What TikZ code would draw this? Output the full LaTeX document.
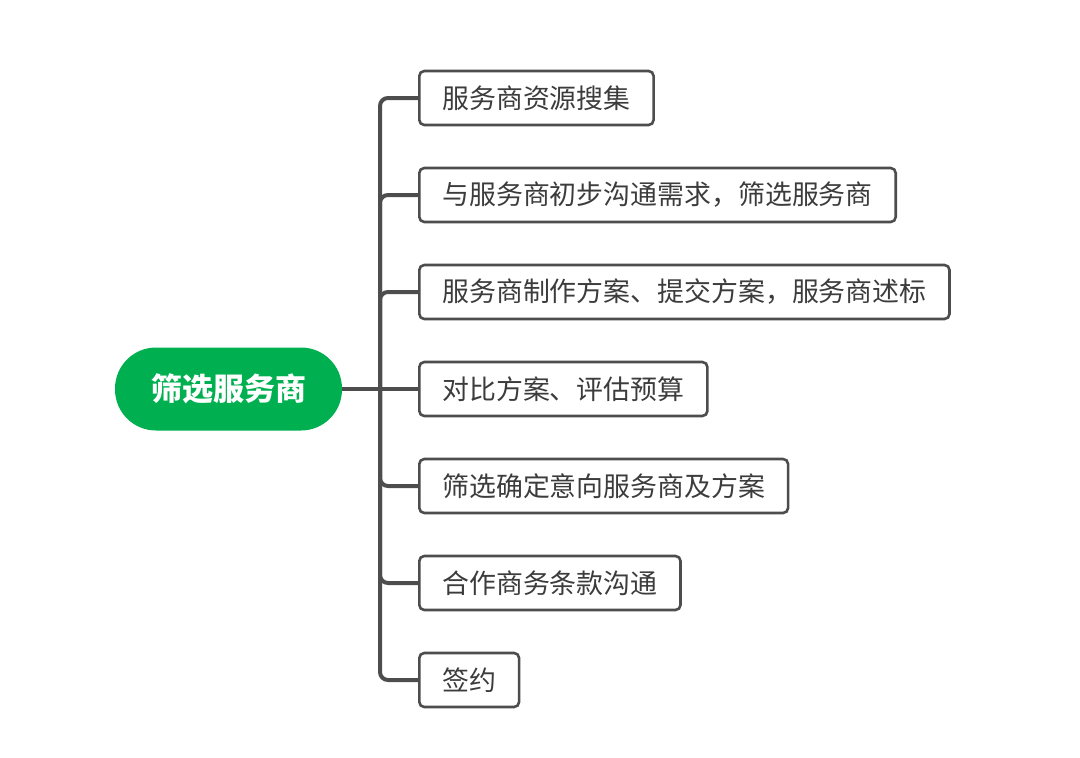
\documentclass[tikz,border=0pt]{standalone}
\usepackage{fontspec}
\newfontfamily\cjk{Noto Sans CJK SC}
\usetikzlibrary{positioning}
\definecolor{rootgreen}{RGB}{0,176,80}
\definecolor{linegray}{RGB}{77,77,77}
\definecolor{textgray}{RGB}{60,60,60}

\begin{document}
\begin{tikzpicture}[
    x=1pt, y=-1pt,
    root/.style={fill=rootgreen, rounded corners=41pt, minimum width=227pt, minimum height=83pt,
                 text=white, font=\cjk\bfseries\fontsize{31}{37}\selectfont},
    item/.style={draw=linegray, line width=2.6pt, rounded corners=5pt, fill=white,
                 minimum height=54pt, inner xsep=23pt, text=textgray,
                 font=\cjk\fontsize{26.9}{32}\selectfont},
    branch/.style={draw=linegray, line width=4pt, rounded corners=8pt}
]
\useasboundingbox (0,0) rectangle (1080,758);
\node[root] (root) at (228.5,389) {筛选服务商};
\node[item, anchor=west] (b1) at (418,98) {服务商资源搜集};
\node[item, below right=40.4pt and 0pt of b1.south west] (b2) {与服务商初步沟通需求，筛选服务商};
\node[item, below right=40.4pt and 0pt of b2.south west] (b3) {服务商制作方案、提交方案，服务商述标};
\node[item, below right=40.4pt and 0pt of b3.south west] (b4) {对比方案、评估预算};
\node[item, below right=40.4pt and 0pt of b4.south west] (b5) {筛选确定意向服务商及方案};
\node[item, below right=40.4pt and 0pt of b5.south west] (b6) {合作商务条款沟通};
\node[item, below right=40.4pt and 0pt of b6.south west] (b7) {签约};
\coordinate (jn) at (380,389);
% trunk and branches
\draw[branch] (root.east) -- (jn) -- (b4.west);
\draw[branch] (jn) |- (b1.west);
\draw[branch] (jn) |- (b2.west);
\draw[branch] (jn) |- (b3.west);
\draw[branch] (jn) |- (b5.west);
\draw[branch] (jn) |- (b6.west);
\draw[branch] (jn) |- (b7.west);
\end{tikzpicture}
\end{document}
